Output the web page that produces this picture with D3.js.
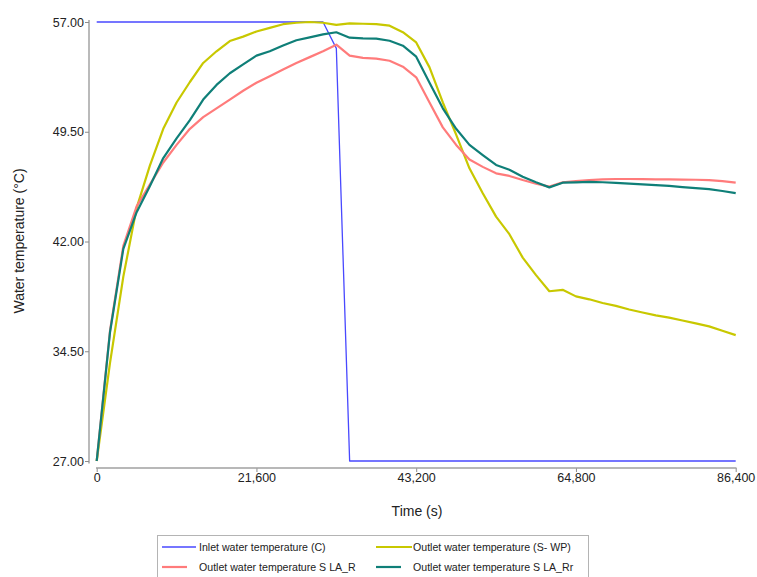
<!DOCTYPE html>
<html>
<head>
<meta charset="utf-8">
<script src="https://cdn.jsdelivr.net/npm/d3@7"></script>
<style>
  body { margin: 0; background: #fff; }
  svg { font-family: Arial, "Liberation Sans", sans-serif; }
</style>
</head>
<body>
<svg id="chart" width="757" height="577"></svg>
<script>
// time in seconds, 1800 s steps for the outlet series
const times = d3.range(0, 86400 + 1, 1800);

const inletTimes = [0, 30600, 32400, 34200, 86400];
const inletTemp = [57, 57, 55.2, 27, 27];

const outletSWP = [27.0, 33.7, 39.6, 44.3, 47.2, 49.7, 51.5, 52.9, 54.2, 55.0,
  55.7, 56.0, 56.35, 56.6, 56.85, 56.95, 57.0, 56.95, 56.8, 56.9,
  56.88, 56.85, 56.75, 56.3, 55.6, 53.9, 51.5, 49.3, 47.0, 45.3,
  43.7, 42.5, 40.9, 39.7, 38.6, 38.7, 38.25, 38.05, 37.8, 37.6,
  37.35, 37.15, 36.95, 36.8, 36.6, 36.4, 36.2, 35.9, 35.6];

const outletSLA_R = [27.0, 35.9, 41.7, 44.4, 45.9, 47.4, 48.6, 49.7, 50.5, 51.1,
  51.7, 52.3, 52.85, 53.3, 53.75, 54.2, 54.6, 55.0, 55.45, 54.7,
  54.55, 54.5, 54.35, 53.95, 53.22, 51.5, 49.8, 48.6, 47.6, 47.1,
  46.66, 46.48, 46.2, 45.95, 45.75, 46.04, 46.12, 46.2, 46.24, 46.27,
  46.27, 46.26, 46.25, 46.24, 46.23, 46.22, 46.2, 46.12, 46.02];

const outletSLA_Rr = [27.0, 35.8, 41.5, 44.0, 45.8, 47.7, 49.05, 50.3, 51.7, 52.7,
  53.5, 54.1, 54.7, 55.0, 55.4, 55.75, 55.95, 56.15, 56.3, 55.93,
  55.88, 55.86, 55.72, 55.38, 54.63, 52.85, 51.1, 49.7, 48.6, 47.9,
  47.23, 46.9, 46.43, 46.05, 45.7, 46.02, 46.04, 46.08, 46.05, 46.0,
  45.95, 45.9, 45.85, 45.8, 45.72, 45.65, 45.58, 45.45, 45.3];

const xTicks = [0, 21600, 43200, 64800, 86400];
const yTicks = [27, 34.5, 42, 49.5, 57];

const series = [
  { name: "Inlet water temperature (C)", t: inletTimes, v: inletTemp, color: "#4848ff", width: 1.3 },
  { name: "Outlet water temperature (S- WP)", t: times, v: outletSWP, color: "#c8c800", width: 2.2 },
  { name: "Outlet water temperature S LA_R", t: times, v: outletSLA_R, color: "#ff7b7b", width: 2.2 },
  { name: "Outlet water temperature S LA_Rr", t: times, v: outletSLA_Rr, color: "#0f7f78", width: 2.2 }
];

const svg = d3.select("#chart");

const x = d3.scaleLinear().domain([0, 86400]).range([96.7, 735.7]);
const y = d3.scaleLinear().domain([27, 57]).range([461, 22]);

// y axis
const yAxis = svg.append("g")
  .attr("transform", "translate(89,0)")
  .call(d3.axisLeft(y).tickValues(yTicks).tickFormat(d3.format(".2f")).tickSize(4).tickPadding(1));
yAxis.select(".domain").remove();
yAxis.append("line").attr("x1", 0).attr("x2", 0).attr("y1", 20).attr("y2", 463.5)
  .attr("stroke", "#8c8c8c").attr("stroke-width", 1.2);
yAxis.selectAll(".tick line").attr("stroke", "#8c8c8c");
yAxis.selectAll("text").attr("font-size", "12.5px").attr("fill", "#222");

// x axis
const xAxis = svg.append("g")
  .attr("transform", "translate(0,468)")
  .call(d3.axisBottom(x).tickValues(xTicks).tickFormat(d3.format(",")).tickSize(4).tickPadding(1.5));
xAxis.select(".domain").remove();
xAxis.append("line").attr("x1", 96).attr("x2", 736.5).attr("y1", 0).attr("y2", 0)
  .attr("stroke", "#a0a0a0").attr("stroke-width", 1.5);
xAxis.selectAll(".tick line").attr("stroke", "#8c8c8c");
xAxis.selectAll("text").attr("font-size", "12.5px").attr("fill", "#222");

// axis titles
svg.append("text")
  .attr("transform", "translate(24,241) rotate(-90)")
  .attr("text-anchor", "middle")
  .attr("font-size", "14px")
  .attr("fill", "#222")
  .text("Water temperature (°C)");

svg.append("text")
  .attr("x", 417).attr("y", 516)
  .attr("text-anchor", "middle")
  .attr("font-size", "14px")
  .attr("fill", "#222")
  .text("Time (s)");

// lines
const line = d3.line().x(d => x(d[0])).y(d => y(d[1]));
series.forEach(s => {
  svg.append("path")
    .datum(s.t.map((t, i) => [t, s.v[i]]))
    .attr("fill", "none")
    .attr("stroke", s.color)
    .attr("stroke-width", s.width)
    .attr("stroke-linejoin", "round")
    .attr("d", line);
});

// legend
const legend = svg.append("g");
legend.append("rect")
  .attr("x", 157.5).attr("y", 535.5).attr("width", 431).attr("height", 60)
  .attr("fill", "#fff").attr("stroke", "#b4b4b4");

const legendItems = [
  { s: series[0], lx: 162, len: 34, tx: 199, ty: 547 },
  { s: series[1], lx: 376, len: 36, tx: 413, ty: 547 },
  { s: series[2], lx: 162, len: 25, tx: 199, ty: 567 },
  { s: series[3], lx: 376, len: 25, tx: 413, ty: 567 }
];
legendItems.forEach(d => {
  legend.append("line")
    .attr("x1", d.lx).attr("x2", d.lx + d.len)
    .attr("y1", d.ty).attr("y2", d.ty)
    .attr("stroke", d.s.color)
    .attr("stroke-width", d.s.width);
  legend.append("text")
    .attr("x", d.tx).attr("y", d.ty)
    .attr("dy", "0.35em")
    .attr("font-size", "10.6px")
    .attr("fill", "#222")
    .text(d.s.name);
});
</script>
</body>
</html>
